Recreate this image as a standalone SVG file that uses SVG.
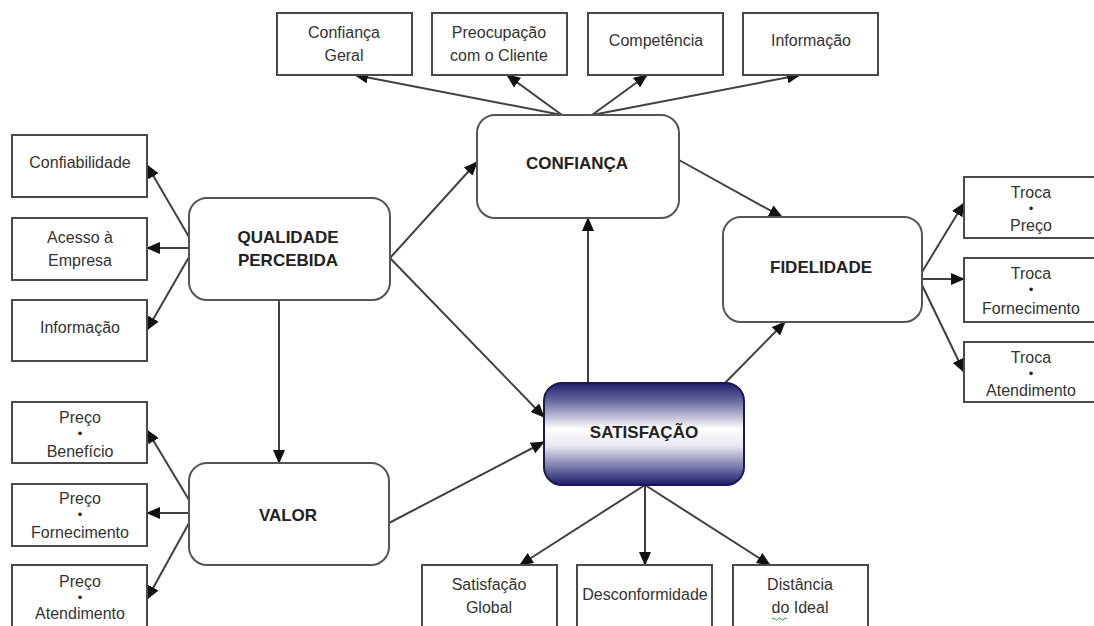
<svg xmlns="http://www.w3.org/2000/svg" width="1094" height="626" viewBox="0 0 1094 626">
<style>
.bg{fill:#ffffff}
.box{fill:#ffffff;stroke:#4a4a4a;stroke-width:2}
.node{fill:#ffffff;stroke:#555555;stroke-width:2}
.t{font-family:"Liberation Sans",Arial,sans-serif;font-size:16px;fill:#333333;text-anchor:middle}
.b{font-family:"Liberation Sans",Arial,sans-serif;font-size:17px;font-weight:bold;fill:#222222;text-anchor:middle}
.dot{font-family:"Liberation Sans",Arial,sans-serif;font-size:13px;fill:#222222;text-anchor:middle}
.c line{stroke:#404040;stroke-width:2;marker-end:url(#ah)}
</style>
<defs>
<marker id="ah" markerUnits="userSpaceOnUse" markerWidth="14" markerHeight="12" refX="13" refY="6" orient="auto">
<path d="M0,0 L14,6 L0,12 z" fill="#111111"/>
</marker>
<linearGradient id="satg" x1="0" y1="0" x2="0" y2="1">
<stop offset="0" stop-color="#1e1e6c"/>
<stop offset="0.18" stop-color="#6a6aa2"/>
<stop offset="0.45" stop-color="#ffffff"/>
<stop offset="0.62" stop-color="#e6e6ef"/>
<stop offset="0.85" stop-color="#6a6aa2"/>
<stop offset="1" stop-color="#1c1c6a"/>
</linearGradient>
</defs>
<rect class="bg" x="0" y="0" width="1094" height="626"/>

<g id="connectors" class="c">
<line x1="562" y1="115" x2="355" y2="75"/>
<line x1="562" y1="115" x2="507" y2="75"/>
<line x1="592" y1="115" x2="647" y2="75"/>
<line x1="592" y1="115" x2="800" y2="75"/>
<line x1="189" y1="237" x2="147" y2="165"/>
<line x1="189" y1="248" x2="147" y2="248"/>
<line x1="189" y1="257" x2="147" y2="330"/>
<line x1="279" y1="300" x2="279" y2="463"/>
<line x1="390" y1="258" x2="477" y2="162"/>
<line x1="390" y1="258" x2="544" y2="417"/>
<line x1="189" y1="500" x2="147" y2="430"/>
<line x1="189" y1="513" x2="147" y2="513"/>
<line x1="189" y1="523" x2="147" y2="599"/>
<line x1="389" y1="523" x2="544" y2="442"/>
<line x1="588" y1="383" x2="588" y2="218"/>
<line x1="725" y1="383" x2="785" y2="322"/>
<line x1="679" y1="160" x2="782" y2="217"/>
<line x1="645" y1="485" x2="520" y2="565"/>
<line x1="645" y1="485" x2="645" y2="565"/>
<line x1="645" y1="485" x2="770" y2="565"/>
<line x1="922" y1="272" x2="964" y2="203"/>
<line x1="922" y1="279" x2="964" y2="279"/>
<line x1="922" y1="285" x2="964" y2="372"/>
</g>

<g id="confianca-geral"><rect class="box" x="277" y="13" width="135" height="62"/><text class="t" x="344" y="38">Confiança</text><text class="t" x="344" y="61">Geral</text></g>
<g id="preocupacao"><rect class="box" x="432" y="13" width="135" height="62"/><text class="t" x="499" y="38">Preocupação</text><text class="t" x="499" y="61">com o Cliente</text></g>
<g id="competencia"><rect class="box" x="588" y="13" width="135" height="62"/><text class="t" x="656" y="46">Competência</text></g>
<g id="informacao-top"><rect class="box" x="743" y="13" width="135" height="62"/><text class="t" x="811" y="46">Informação</text></g>

<g id="confianca"><rect class="node" x="477" y="115" width="202" height="103" rx="18"/><text class="b" x="577" y="169">CONFIANÇA</text></g>

<g id="confiabilidade"><rect class="box" x="12" y="135" width="135" height="62"/><text class="t" x="80" y="168">Confiabilidade</text></g>
<g id="acesso"><rect class="box" x="12" y="218" width="135" height="62"/><text class="t" x="80" y="243">Acesso à</text><text class="t" x="80" y="266">Empresa</text></g>
<g id="informacao-left"><rect class="box" x="12" y="300" width="135" height="61"/><text class="t" x="80" y="333">Informação</text></g>

<g id="qualidade"><rect class="node" x="189" y="198" width="201" height="102" rx="18"/><text class="b" x="288" y="243">QUALIDADE</text><text class="b" x="288" y="266">PERCEBIDA</text></g>

<g id="preco-beneficio"><rect class="box" x="12" y="402" width="135" height="61"/><text class="t" x="80" y="423">Preço</text><text class="dot" x="80" y="438">•</text><text class="t" x="80" y="457">Benefício</text></g>
<g id="preco-fornecimento"><rect class="box" x="12" y="484" width="135" height="62"/><text class="t" x="80" y="504">Preço</text><text class="dot" x="80" y="519">•</text><text class="t" x="80" y="538">Fornecimento</text></g>
<g id="preco-atendimento"><rect class="box" x="12" y="565" width="135" height="62"/><text class="t" x="80" y="587">Preço</text><text class="dot" x="80" y="602">•</text><text class="t" x="80" y="619">Atendimento</text></g>

<g id="valor"><rect class="node" x="189" y="463" width="200" height="102" rx="18"/><text class="b" x="288" y="521">VALOR</text></g>

<g id="satisfacao"><rect x="544" y="383" width="200" height="102" rx="18" fill="url(#satg)" stroke="#1a1a50" stroke-width="2"/><text class="b" x="644" y="438">SATISFAÇÃO</text></g>

<g id="satisfacao-global"><rect class="box" x="422" y="565" width="135" height="62"/><text class="t" x="489" y="590">Satisfação</text><text class="t" x="489" y="613">Global</text></g>
<g id="desconformidade"><rect class="box" x="577" y="565" width="135" height="62"/><text class="t" x="645" y="600">Desconformidade</text></g>
<g id="distancia"><rect class="box" x="733" y="565" width="135" height="62"/><text class="t" x="800" y="590">Distância</text><text class="t" x="800" y="613">do Ideal</text><path d="M772,619 q1.5,-2 3,0 t3,0 t3,0 t3,0 t3,0" fill="none" stroke="#2e9a2e" stroke-width="1"/></g>

<g id="fidelidade"><rect class="node" x="723" y="217" width="199" height="105" rx="18"/><text class="b" x="821" y="273">FIDELIDADE</text></g>

<g id="troca-preco"><rect class="box" x="964" y="177" width="135" height="61"/><text class="t" x="1031" y="198">Troca</text><text class="dot" x="1031" y="213">•</text><text class="t" x="1031" y="231">Preço</text></g>
<g id="troca-fornecimento"><rect class="box" x="964" y="258" width="135" height="64"/><text class="t" x="1031" y="279">Troca</text><text class="dot" x="1031" y="294">•</text><text class="t" x="1031" y="314">Fornecimento</text></g>
<g id="troca-atendimento"><rect class="box" x="964" y="342" width="135" height="60"/><text class="t" x="1031" y="363">Troca</text><text class="dot" x="1031" y="378">•</text><text class="t" x="1031" y="396">Atendimento</text></g>
</svg>
